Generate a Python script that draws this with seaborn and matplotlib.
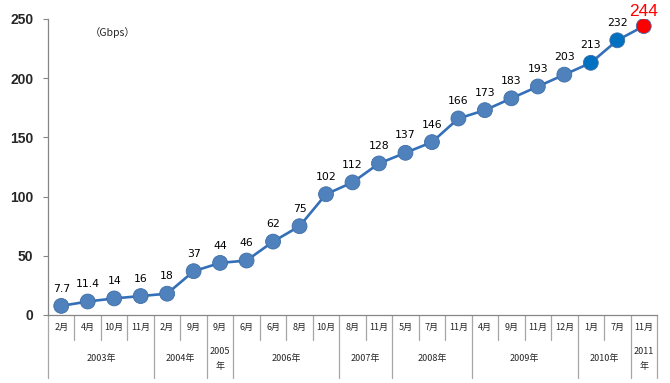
import numpy as np
import matplotlib
matplotlib.use("Agg")
import matplotlib.pyplot as plt
import seaborn as sns
import pandas as pd

# data
months = ["2月", "4月", "10月", "11月", "2月", "9月", "9月", "6月", "6月", "8月", "10月",
          "8月", "11月", "5月", "7月", "11月", "4月", "9月", "11月", "12月", "1月", "7月", "11月"]
years = ["2003年", "2004年", "2005\n年", "2006年", "2007年", "2008年", "2009年", "2010年", "2011\n年"]
year_counts = [4, 2, 1, 4, 2, 3, 4, 2, 1]
values = [7.7, 11.4, 14, 16, 18, 37, 44, 46, 62, 75, 102, 112, 128, 137, 146,
          166, 173, 183, 193, 203, 213, 232, 244]
labels = ["7.7", "11.4", "14", "16", "18", "37", "44", "46", "62", "75", "102", "112", "128",
          "137", "146", "166", "173", "183", "193", "203", "213", "232", "244"]
kind = ["old"] * 20 + ["recent", "recent", "latest"]

df = pd.DataFrame({"idx": np.arange(len(values)), "value": values, "kind": kind})

sns.set_style("white")
plt.rcParams["font.family"] = ["Noto Sans CJK JP", "DejaVu Sans"]

fig = plt.figure(figsize=(6.7, 3.83), dpi=100)
ax = fig.add_axes([48 / 670, 68 / 383, 609 / 670, 296 / 383])

sns.lineplot(data=df, x="idx", y="value", ax=ax, color="#3470B8", linewidth=1.9, zorder=2)
sns.scatterplot(data=df, x="idx", y="value", hue="kind", ax=ax, s=115, zorder=3,
                palette={"old": "#4F81BD", "recent": "#0070C0", "latest": "#FF0000"},
                edgecolor="#3F6EA6", linewidth=0.6, legend=False)

for i, (v, t) in enumerate(zip(values, labels)):
    if kind[i] == "latest":
        ax.annotate(t, (i, v), xytext=(0, 10.5), textcoords="offset points", ha="center",
                    va="center", color="#FF0000", fontsize=12.5, family="Liberation Sans",
                    annotation_clip=False)
    else:
        ax.annotate(t, (i, v), xytext=(0, 12.5), textcoords="offset points", ha="center",
                    va="center", color="black", fontsize=7.8, family="DejaVu Sans")

ax.set_xlim(-0.5, len(values) - 0.5)
ax.set_ylim(0, 250)
ax.set_yticks([0, 50, 100, 150, 200, 250])
ax.set_yticklabels(["0", "50", "100", "150", "200", "250"], fontsize=10, fontweight="bold",
                   family="Liberation Sans")
ax.tick_params(axis="y", left=True, length=3.5, width=0.8, color="#868686", pad=7)
ax.set_xticks([])
ax.set_xlabel("")
ax.set_ylabel("")
for side in ["top", "right"]:
    ax.spines[side].set_visible(False)
for side in ["left", "bottom"]:
    ax.spines[side].set_color("#868686")
    ax.spines[side].set_linewidth(0.9)

ax.text(0.068, 0.955, "（Gbps）", transform=ax.transAxes, fontsize=7.5, ha="left", va="center")

# category table under the axis
tr = ax.get_xaxis_transform()
month_bottom = -25 / 296
year_bottom = -63 / 296
year_edges = np.cumsum([0] + year_counts)
for i in range(len(values) + 1):
    bottom = year_bottom if i in year_edges else month_bottom
    ax.plot([i - 0.5, i - 0.5], [0, bottom], transform=tr, color="#A6A6A6", lw=0.9, clip_on=False)
for i, m in enumerate(months):
    ax.text(i, -12 / 296, m, transform=tr, ha="center", va="center", fontsize=6.5)
for k, y in enumerate(years):
    center = (year_edges[k] + year_edges[k + 1] - 1) / 2
    ax.text(center, -44 / 296, y, transform=tr, ha="center", va="center", fontsize=6.5,
            linespacing=1.9)

fig.savefig("out.png", dpi=100)
